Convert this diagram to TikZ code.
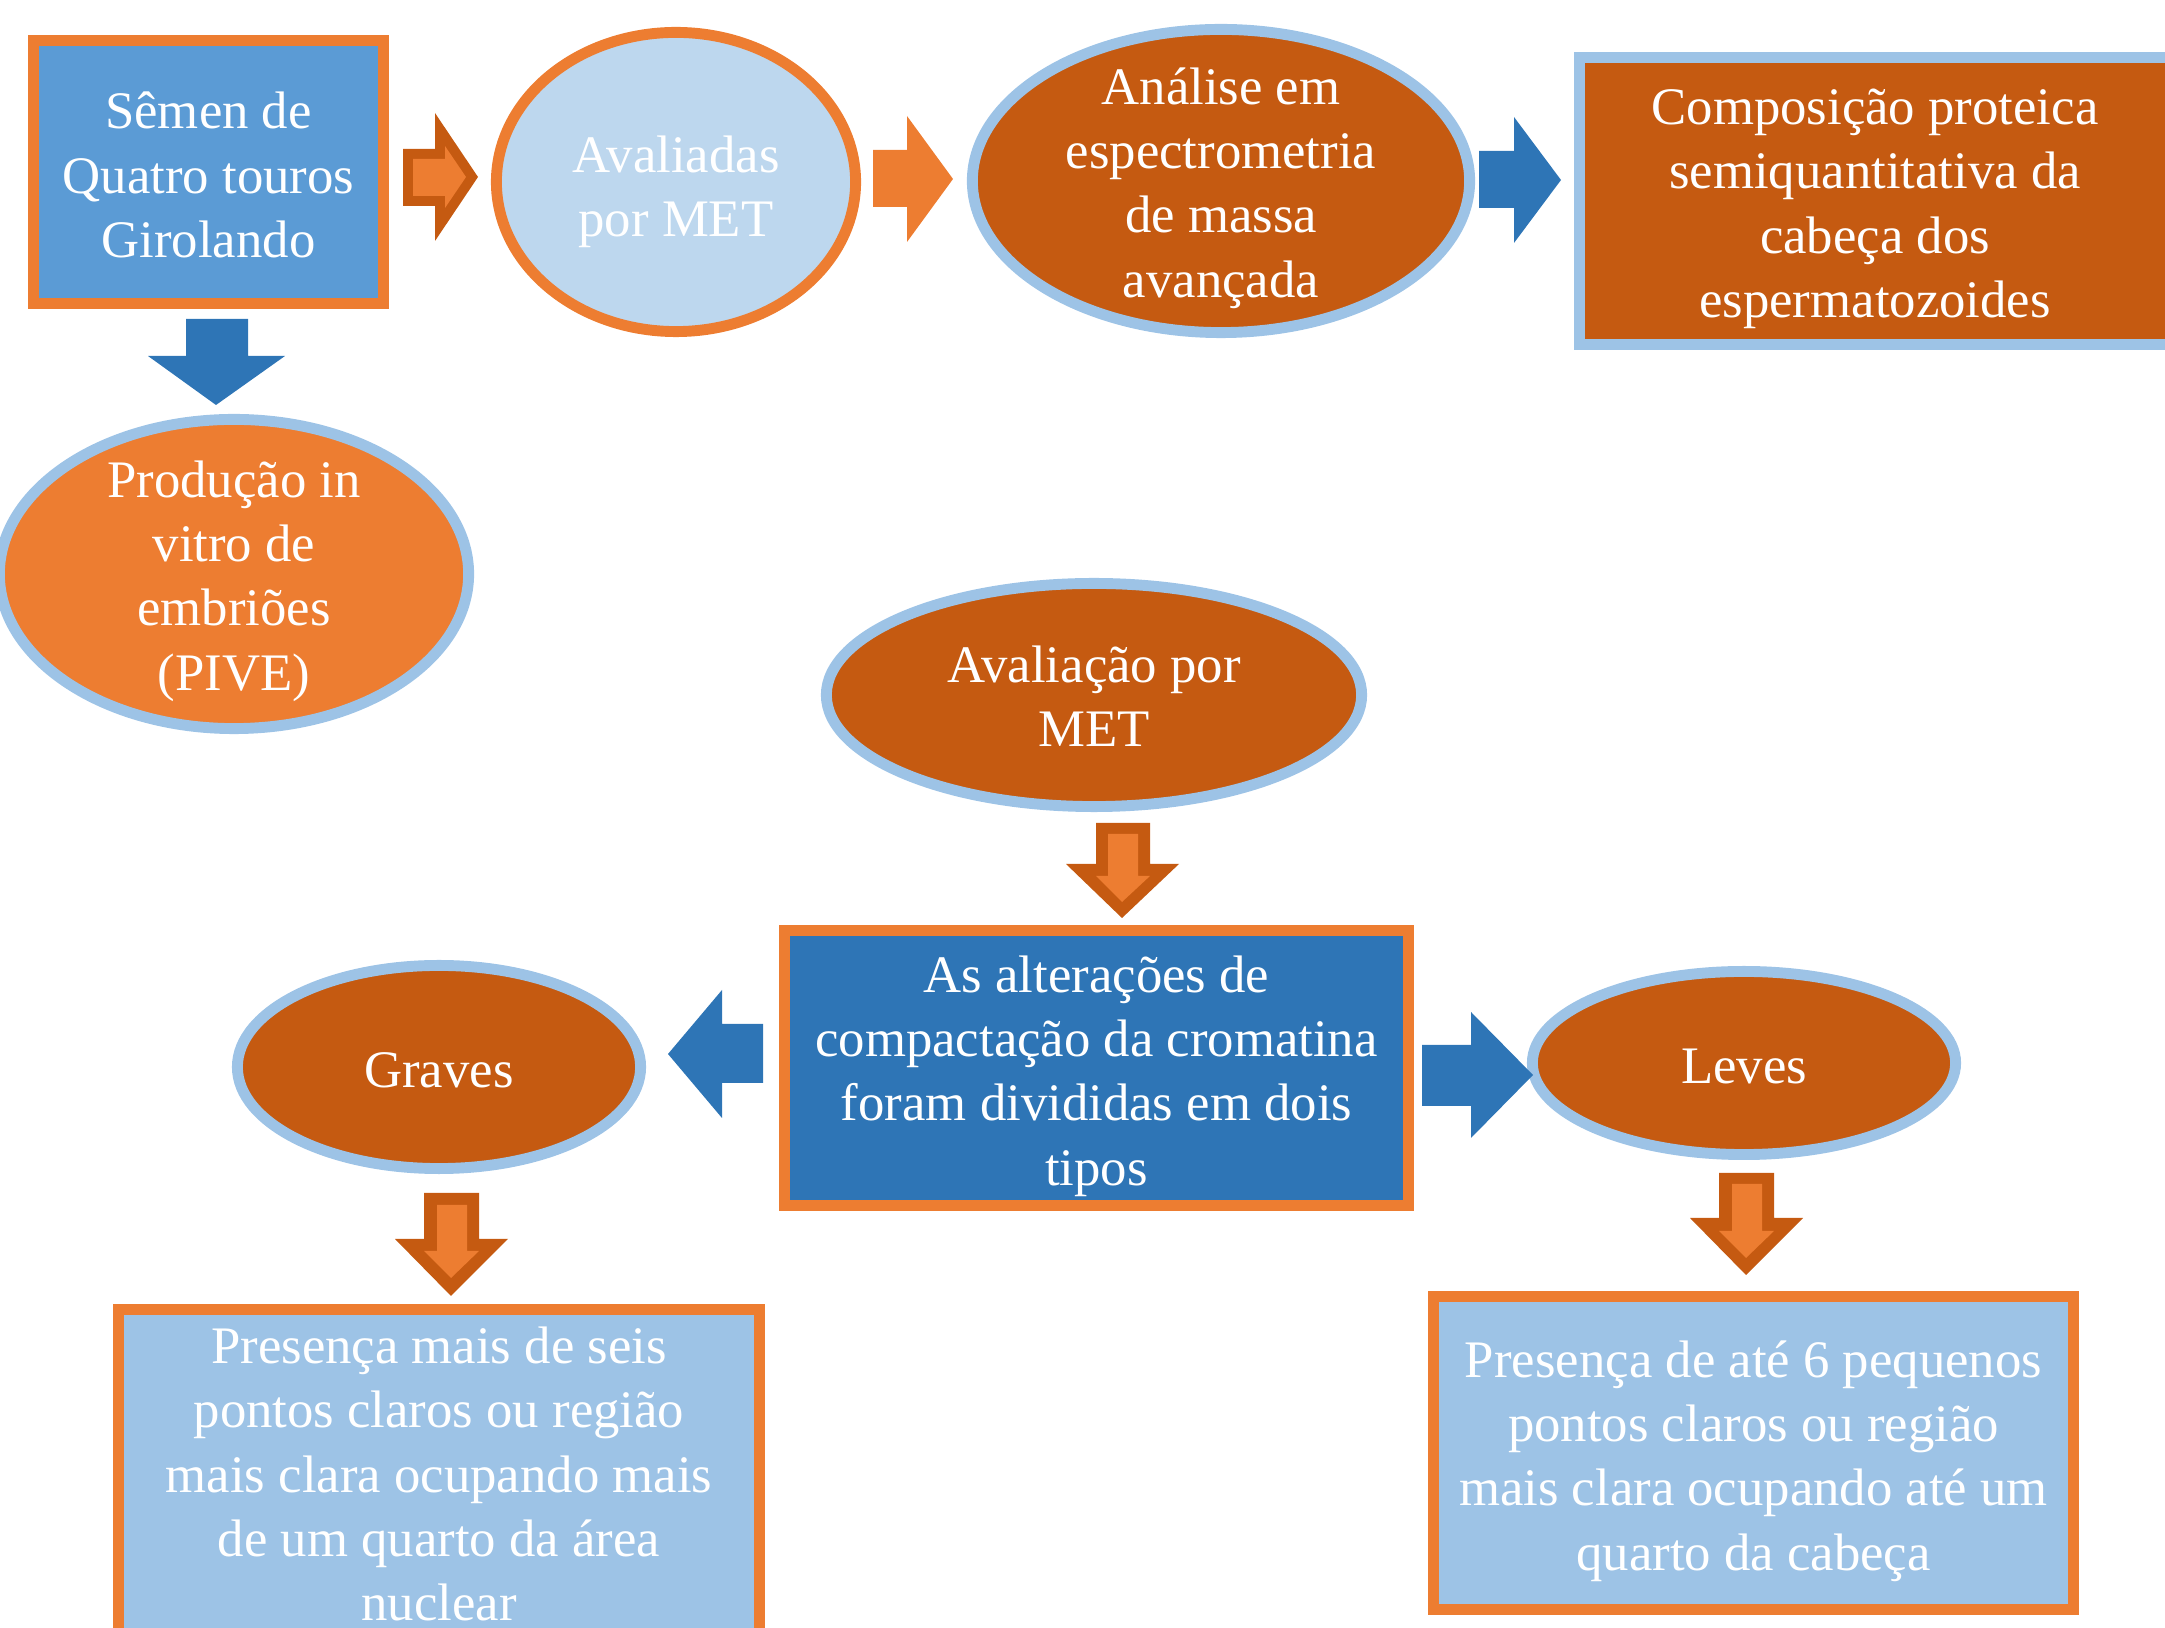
\documentclass[tikz,border=0pt]{standalone}
\usepackage{fontspec}
\setmainfont{Liberation Serif}
\usetikzlibrary{shapes.geometric,calc}
\definecolor{cOrange}{HTML}{ED7D31}
\definecolor{cDarkOrange}{HTML}{C55A11}
\definecolor{cBlue}{HTML}{5B9BD5}
\definecolor{cDarkBlue}{HTML}{2E75B6}
\definecolor{cLightBlue}{HTML}{9DC3E6}
\definecolor{cPaleBlue}{HTML}{BDD7EE}
\begin{document}
\begin{tikzpicture}[x=0.01cm,y=-0.01cm,
  shapebase/.style={inner sep=0pt, outer sep=0pt, line width=3.1pt},
  boxnode/.style={shapebase, rectangle},
  ellnode/.style={shapebase, ellipse},
  txt/.style={text=white, align=center, font=\fontsize{15}{18.3}\selectfont,
              inner sep=0pt, outer sep=0pt},
  bluearrow/.style={fill=cDarkBlue},
  orangearrow/.style={fill=cOrange},
  arrowrim/.style={fill=cDarkOrange},
  arrowcore/.style={fill=cOrange}]
\useasboundingbox (0,0) rectangle (2165,1628);
\clip (0,0) rectangle (2165,1628);

% shapes
\node[boxnode, draw=cOrange, fill=cBlue, minimum width=3.5cm, minimum height=2.63cm]
  (semen) at (208.5,172) {};
\node[ellnode, draw=cOrange, fill=cPaleBlue, minimum width=3.59cm, minimum height=2.99cm]
  (aval) at (676,182) {};
\node[ellnode, draw=cLightBlue, fill=cDarkOrange, minimum width=4.97cm, minimum height=3.03cm]
  (analise) at (1221,181) {};
\node[boxnode, draw=cLightBlue, fill=cDarkOrange, minimum width=5.91cm, minimum height=2.87cm]
  (comp) at (1875,201) {};
\node[ellnode, draw=cLightBlue, fill=cOrange, minimum width=4.69cm, minimum height=3.09cm]
  (pive) at (234,574) {};
\node[ellnode, draw=cLightBlue, fill=cDarkOrange, minimum width=5.35cm, minimum height=2.23cm]
  (met) at (1094,695) {};
\node[boxnode, draw=cOrange, fill=cDarkBlue, minimum width=6.24cm, minimum height=2.75cm]
  (alter) at (1096.5,1068) {};
\node[ellnode, draw=cLightBlue, fill=cDarkOrange, minimum width=4.03cm, minimum height=2.03cm]
  (graves) at (439,1067) {};
\node[ellnode, draw=cLightBlue, fill=cDarkOrange, minimum width=4.23cm, minimum height=1.83cm]
  (leves) at (1744,1063) {};
\node[boxnode, draw=cOrange, fill=cLightBlue, minimum width=6.41cm, minimum height=3.30cm]
  (pgraves) at (439,1475) {};
\node[boxnode, draw=cOrange, fill=cLightBlue, minimum width=6.40cm, minimum height=3.12cm]
  (pleves) at (1753.5,1453) {};

% texts
\node[txt] (tsemen) at ($(semen)+(0,3)$) {Sêmen de\\Quatro touros\\Girolando};
\node[txt] (taval) at ($(aval)+(0,10)$) {Avaliadas\\por MET};
\node[txt] (tanalise) at ($(analise)+(0,7)$) {Análise em\\espectrometria\\de massa\\avançada};
\node[txt] (tcomp) at ($(comp)+(0,8)$) {Composição proteica\\semiquantitativa da\\cabeça dos\\espermatozoides};
\node[txt] (tpive) at ($(pive)+(0,7)$) {Produção in\\vitro de\\embriões\\(PIVE)};
\node[txt] (tmet) at ($(met)+(0,1)$) {Avaliação por\\MET};
\node[txt] (talter) at ($(alter)+(0,8)$) {As alterações de\\compactação da cromatina\\foram divididas em dois\\tipos};
\node[txt] (tgraves) at ($(graves)+(0,3)$) {Graves};
\node[txt] (tleves) at ($(leves)+(0,3)$) {Leves};
\node[txt] (tpgraves) at ($(pgraves)+(0,-1)$) {Presença mais de seis\\pontos claros ou região\\mais clara ocupando mais\\de um quarto da área\\nuclear};
\node[txt] (tpleves) at ($(pleves)+(0,8)$) {Presença de até 6 pequenos\\pontos claros ou região\\mais clara ocupando até um\\quarto da cabeça};

% block arrows
% semen -> aval (double orange)
\fill[arrowrim] (403,149) -- (435,149) -- (435,113) -- (478,177) -- (435,241) -- (435,206) -- (403,206) -- cycle;
\fill[arrowcore] (413,159) -- (445,159) -- (445,146) -- (466,177) -- (445,208) -- (445,196) -- (413,196) -- cycle;
% aval -> analise
\fill[orangearrow] (873,150) -- (907,150) -- (907,116) -- (953,179) -- (907,242) -- (907,207) -- (873,207) -- cycle;
% analise -> comp
\fill[bluearrow] (1479,151) -- (1514,151) -- (1514,117) -- (1561,180) -- (1514,243) -- (1514,208) -- (1479,208) -- cycle;
% semen -> pive
\fill[bluearrow] (186,319) -- (248,319) -- (248,356) -- (285,356) -- (216,405) -- (148,356) -- (186,356) -- cycle;
% met -> alter
\fill[arrowrim] (1096,823) -- (1150,823) -- (1150,864) -- (1179,864) -- (1122,918) -- (1066,864) -- (1096,864) -- cycle;
\fill[arrowcore] (1108,834) -- (1138,834) -- (1138,876) -- (1150,876) -- (1122,902) -- (1096,876) -- (1108,876) -- cycle;
% alter -> graves
\fill[bluearrow] (763,1024) -- (722,1024) -- (722,990) -- (668,1054) -- (722,1118) -- (722,1083) -- (763,1083) -- cycle;
% alter -> leves
\fill[bluearrow] (1422,1045) -- (1471,1045) -- (1471,1012) -- (1533,1075) -- (1471,1138) -- (1471,1106) -- (1422,1106) -- cycle;
% graves -> pgraves
\fill[arrowrim] (424,1193) -- (479,1193) -- (479,1239) -- (508,1239) -- (451,1296) -- (395,1239) -- (424,1239) -- cycle;
\fill[arrowcore] (437,1205) -- (467,1205) -- (467,1251) -- (479,1251) -- (451,1278) -- (424,1251) -- (437,1251) -- cycle;
% leves -> pleves
\fill[arrowrim] (1719,1173) -- (1774,1173) -- (1774,1218) -- (1803,1218) -- (1746,1275) -- (1690,1218) -- (1719,1218) -- cycle;
\fill[arrowcore] (1732,1184) -- (1762,1184) -- (1762,1231) -- (1774,1231) -- (1746,1258) -- (1719,1231) -- (1732,1231) -- cycle;
\end{tikzpicture}
\end{document}
